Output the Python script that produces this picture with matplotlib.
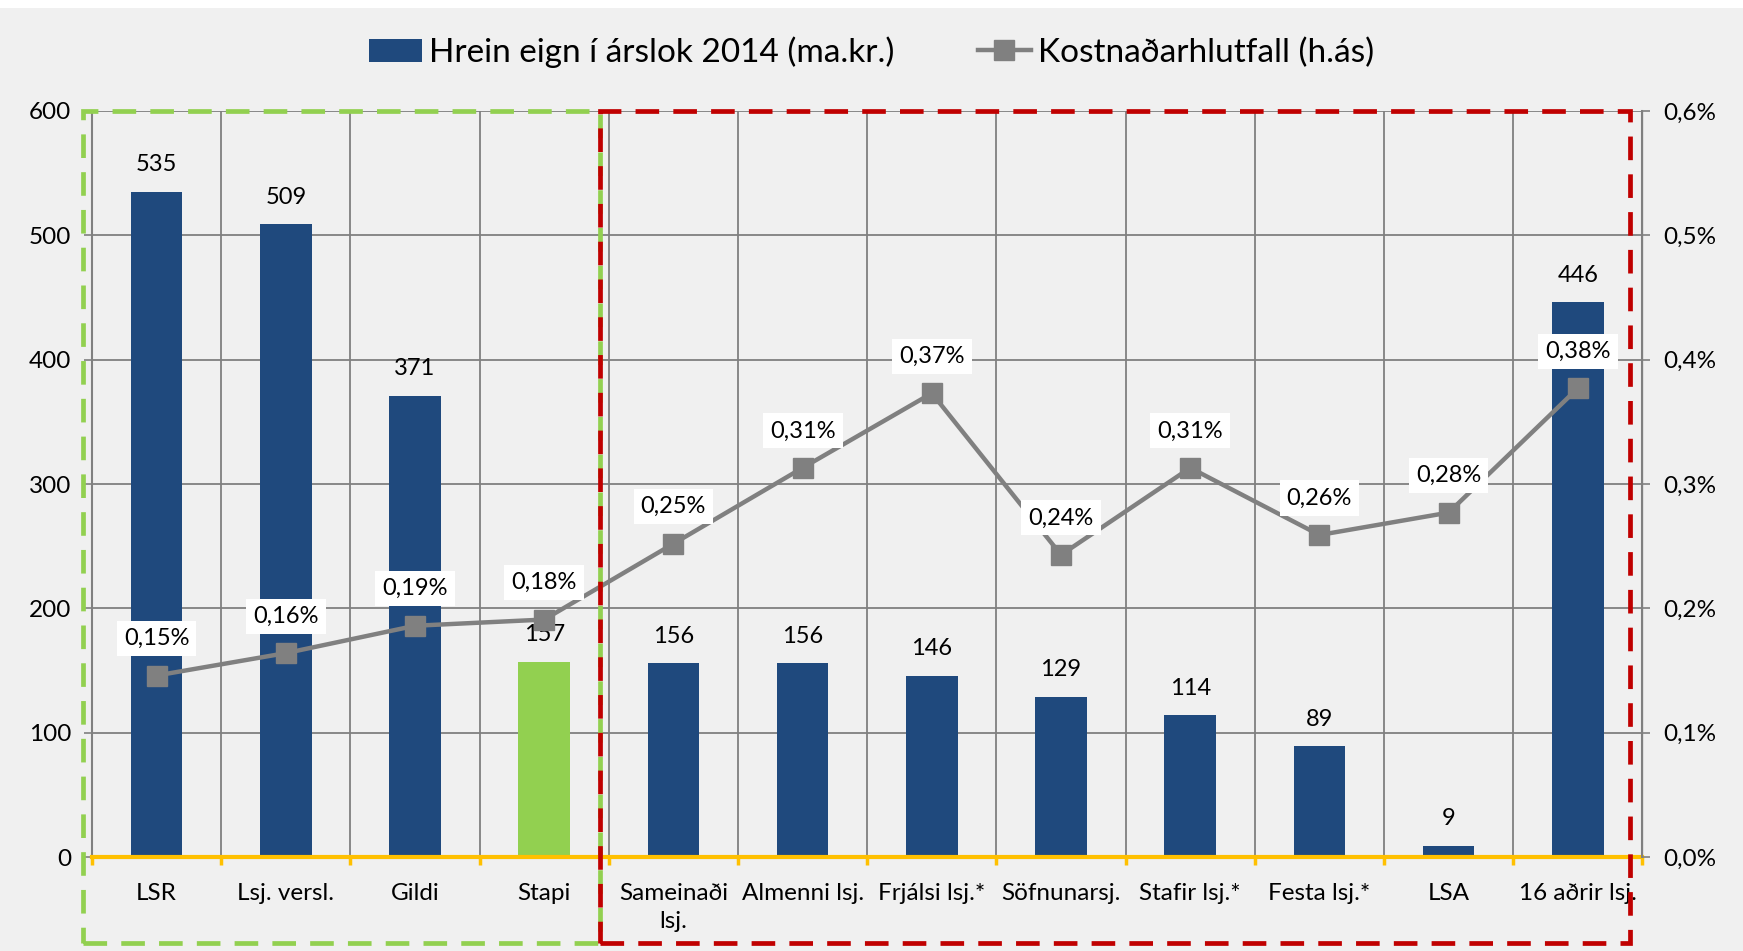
import numpy as np
import matplotlib
matplotlib.use('Agg')
import matplotlib.pyplot as plt
import matplotlib.transforms as mtransforms
from matplotlib.ticker import FuncFormatter
from matplotlib.patches import Rectangle

plt.rcParams['font.family'] = ['Lato', 'DejaVu Sans']

# data
categories = ['LSR', 'Lsj. versl.', 'Gildi', 'Stapi', 'Sameinaði\nlsj.', 'Almenni lsj.',
              'Frjálsi lsj.*', 'Söfnunarsj.', 'Stafir lsj.*', 'Festa lsj.*', 'LSA', '16 aðrir lsj.']
net_assets = [535, 509, 371, 157, 156, 156, 146, 129, 114, 89, 9, 446]
cost_ratio = [0.146, 0.164, 0.186, 0.191, 0.252, 0.313, 0.373, 0.243, 0.313, 0.259, 0.277, 0.377]
cost_labels = ['0,15%', '0,16%', '0,19%', '0,18%', '0,25%', '0,31%',
               '0,37%', '0,24%', '0,31%', '0,26%', '0,28%', '0,38%']
highlight = 'Stapi'

BLUE = '#1F497D'
GREEN = '#92D050'
RED = '#C00000'
GRAY = '#808080'
ORANGE = '#FFC000'
BG = '#F0F0F0'

fig = plt.figure(figsize=(17.43, 9.51), dpi=100, facecolor='white')
fig.patches.append(Rectangle((0.0, 0.0), 1.0, 0.992, transform=fig.transFigure,
                             facecolor=BG, edgecolor='none', zorder=-10))

ax = fig.add_axes([0.0528, 0.0988, 0.8895, 0.7845])
ax.set_facecolor(BG)
ax2 = ax.twinx()

ind = np.arange(len(categories))
colors = [GREEN if c == highlight else BLUE for c in categories]
bars = ax.bar(ind, net_assets, 0.40, color=colors, linewidth=0, zorder=2,
              label='Hrein eign í árslok 2014 (ma.kr.)')

for rect, v in zip(bars, net_assets):
    ax.annotate('%d' % v, (rect.get_x() + rect.get_width() / 2., v),
                xytext=(0, 27), textcoords='offset pixels',
                ha='center', va='center', fontsize=17, color='black')

ax.set_xlim(-0.5, len(categories) - 0.5)
ax.set_ylim(0, 600)
ax.set_yticks(np.arange(0, 601, 100))
ax.set_xticks(ind)
ax.set_xticklabels(categories, fontsize=17.5, linespacing=1.4)
ax.set_xticks(np.arange(-0.5, len(categories)), minor=True)
ax.tick_params(axis='x', which='major', length=0, pad=19)
ax.tick_params(axis='x', which='minor', length=6, width=2.5, color=ORANGE, direction='out')
ax.tick_params(axis='y', length=6, width=1.2, color=GRAY, labelsize=17.5, pad=9)
ax.grid(axis='y', color=GRAY, linewidth=1.3, zorder=0)
ax.grid(axis='x', which='minor', color=GRAY, linewidth=1.3, zorder=0)
ax.set_axisbelow(True)

ax.spines['top'].set_visible(False)
ax.spines['left'].set_color(GRAY)
ax.spines['left'].set_linewidth(1.5)
ax.spines['bottom'].set_color(ORANGE)
ax.spines['bottom'].set_linewidth(3)
ax.spines['bottom'].set_zorder(5)

line, = ax2.plot(ind, cost_ratio, color=GRAY, linewidth=3.2, marker='s', markersize=14,
                 zorder=3, label='Kostnaðarhlutfall (h.ás)')
for x, v, lab in zip(ind, cost_ratio, cost_labels):
    ax2.annotate(lab, (x, v), xytext=(0, 37), textcoords='offset pixels',
                 ha='center', va='center', fontsize=17, color='black', zorder=6,
                 bbox=dict(boxstyle='square,pad=0.3', facecolor='white', edgecolor='none'))

ax2.set_ylim(0, 0.6)
ax2.set_yticks(np.arange(0, 0.61, 0.1))
ax2.yaxis.set_major_formatter(FuncFormatter(lambda v, p: ('%.1f%%' % v).replace('.', ',')))
ax2.tick_params(axis='y', length=6, width=1.2, color=GRAY, labelsize=17.5, pad=9)
for s in ['top', 'left', 'bottom']:
    ax2.spines[s].set_visible(False)
ax2.spines['right'].set_color(GRAY)
ax2.spines['right'].set_linewidth(1.5)

# dashed group frames
trans = mtransforms.blended_transform_factory(ax.transData, ax.transAxes)
frames = [(-0.57, 3.43, GREEN), (3.43, 11.40, RED)]
for x0, x1, col in frames:
    ax2.add_patch(Rectangle((x0, -0.115), x1 - x0, 1.115, transform=trans, fill=False,
                            edgecolor=col, linewidth=3.4, linestyle=(0, (5, 3)),
                            clip_on=False, zorder=7))

fig.legend([bars[0], line], ['Hrein eign í árslok 2014 (ma.kr.)', 'Kostnaðarhlutfall (h.ás)'],
           loc='center', bbox_to_anchor=(0.5, 0.945), ncol=2, frameon=False,
           fontsize=24, handlelength=1.6, handletextpad=0.2, columnspacing=2.5)

fig.savefig('out.png', dpi=100, facecolor=fig.get_facecolor())
